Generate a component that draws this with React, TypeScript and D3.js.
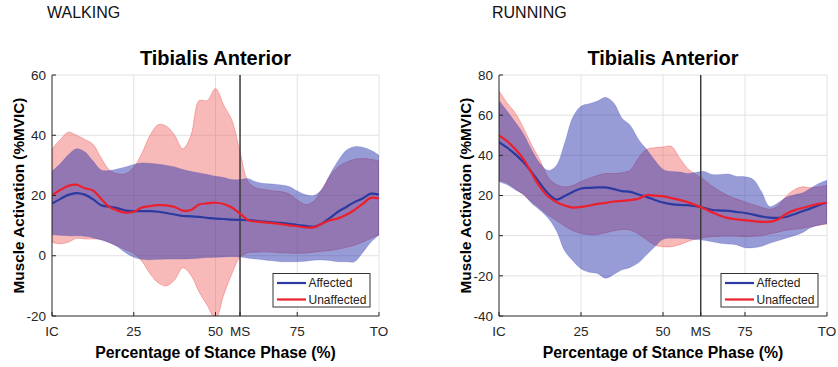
import React from 'react';
import * as d3 from 'd3';

// Stance phase sample positions (%), shared by both panels
const PCT = [0, 2.5, 5, 7.5, 10, 12.5, 15, 17.5, 20, 22.5, 25, 27.5, 30, 32.5, 35, 37.5, 40, 42.5, 45, 47.5, 50, 52.5, 55, 57.5, 60, 62.5, 65, 67.5, 70, 72.5, 75, 77.5, 80, 82.5, 85, 87.5, 90, 92.5, 95, 97.5, 100];

// Walking: mean and mean ± SD (%MVIC)
const WALK_AFF_MEAN = [17.3, 18.8, 20.2, 20.8, 20.3, 18.8, 16.8, 16.3, 15.8, 15.0, 14.8, 14.8, 14.8, 14.6, 14.2, 13.7, 13.2, 13.1, 12.9, 12.6, 12.3, 12.2, 12.0, 11.9, 11.8, 11.6, 11.3, 11.1, 10.9, 10.6, 10.2, 9.9, 9.6, 10.6, 12.6, 14.6, 16.2, 17.8, 19.0, 20.6, 20.3];
const WALK_AFF_UP = [28.0, 30.5, 33.5, 35.5, 34.5, 31.5, 28.5, 28.3, 28.8, 29.5, 30.3, 30.8, 30.7, 30.4, 30.0, 29.5, 28.6, 28.0, 27.5, 27.0, 26.4, 26.0, 25.3, 25.3, 25.6, 24.5, 24.0, 23.8, 23.5, 23.0, 21.5, 20.3, 20.0, 22.0, 27.0, 31.5, 35.0, 36.2, 36.0, 35.0, 33.4];
const WALK_AFF_LO = [7.0, 6.8, 6.6, 6.6, 6.5, 6.0, 5.2, 4.3, 3.0, 1.0, -0.5, -1.2, -1.3, -1.2, -1.1, -1.1, -1.1, -1.0, -0.8, -0.6, -0.5, -0.4, -0.3, -0.4, -0.8, -1.1, -1.4, -1.7, -2.0, -2.0, -2.0, -1.8, -1.5, -1.4, -1.6, -2.0, -2.0, -2.0, 1.0, 4.5, 6.9];
const WALK_UNA_MEAN = [20.1, 21.8, 23.2, 23.6, 22.4, 21.7, 18.9, 16.2, 15.0, 14.3, 14.6, 16.0, 16.5, 16.8, 16.7, 16.2, 15.0, 15.2, 17.0, 17.4, 17.6, 17.2, 16.0, 14.0, 11.8, 11.3, 11.1, 10.8, 10.5, 10.1, 9.8, 9.4, 9.4, 10.6, 11.8, 12.4, 13.6, 15.2, 17.2, 19.2, 19.0];
const WALK_UNA_UP = [35.5, 38.5, 41.0, 40.0, 38.6, 37.0, 32.5, 28.5, 27.2, 27.2, 29.3, 34.0, 40.0, 43.5, 43.0, 40.0, 35.5, 40.0, 51.5, 51.5, 55.5, 50.0, 45.0, 34.5, 24.5, 22.5, 22.0, 21.5, 21.3, 20.5, 18.5, 17.0, 18.0, 22.0, 26.5, 29.5, 31.0, 32.0, 32.3, 32.0, 31.5];
const WALK_UNA_LO = [4.4, 4.0, 4.5, 5.8, 5.6, 5.6, 5.5, 4.5, 3.3, 2.0, 0.8, -1.8, -6.0, -9.0, -10.0, -8.0, -4.0, -6.5, -12.0, -16.5, -21.0, -13.0, -6.0, -0.5, 1.0, 1.2, 1.3, 1.2, 1.0, 0.9, 0.8, 0.9, 1.2, 1.5, 1.7, 2.2, 2.8, 3.5, 4.5, 5.8, 6.9];

// Running: mean and mean ± SD (%MVIC)
const RUN_AFF_MEAN = [46.6, 43.8, 40.5, 36.5, 31.5, 26.0, 21.0, 18.0, 19.7, 21.8, 23.5, 23.8, 24.0, 24.0, 23.2, 22.2, 21.8, 20.5, 19.3, 17.8, 16.5, 15.7, 15.3, 15.2, 14.7, 13.9, 12.8, 12.5, 12.3, 11.8, 11.3, 10.5, 9.6, 9.0, 8.9, 9.3, 10.7, 12.2, 13.6, 15.2, 16.4];
const RUN_AFF_UP = [67.3, 62.0, 56.5, 50.5, 42.5, 35.9, 32.5, 35.0, 46.0, 59.0, 64.5, 65.7, 67.0, 68.9, 66.0, 58.5, 55.0, 48.0, 43.0, 37.5, 33.0, 32.0, 31.7, 31.0, 31.5, 32.0, 30.5, 30.5, 30.7, 29.5, 29.3, 28.0, 22.0, 14.5, 16.3, 19.0, 20.3, 21.2, 23.6, 26.0, 27.6];
const RUN_AFF_LO = [26.8, 25.3, 22.8, 20.5, 16.0, 12.7, 8.7, 2.5, -7.5, -12.5, -16.5, -18.2, -18.8, -21.2, -19.3, -17.0, -15.8, -13.5, -9.5, -5.5, -1.8, -1.3, -1.3, -1.5, -1.9, -2.3, -3.0, -3.8, -4.2, -4.6, -6.0, -6.0, -5.3, -3.8, -2.5, -1.3, 0.0, 1.5, 4.0, 5.2, 6.1];
const RUN_UNA_MEAN = [49.9, 47.0, 43.0, 38.0, 31.0, 24.3, 19.5, 16.8, 15.0, 14.0, 14.3, 15.0, 15.8, 16.3, 17.0, 17.3, 17.7, 18.4, 20.2, 19.9, 19.7, 18.7, 17.8, 16.7, 15.2, 13.5, 11.6, 9.9, 8.7, 8.1, 7.7, 7.2, 6.9, 6.9, 8.0, 10.8, 12.6, 13.8, 14.9, 15.8, 16.4];
const RUN_UNA_UP = [72.2, 66.0, 61.0, 53.5, 45.0, 37.5, 29.0, 25.5, 24.3, 25.0, 27.0, 28.5, 30.0, 30.9, 30.9, 31.3, 32.6, 38.5, 43.0, 43.8, 44.1, 44.5, 38.8, 33.5, 30.5, 27.8, 24.6, 22.0, 19.8, 18.2, 16.8, 15.4, 14.2, 13.1, 14.8, 19.5, 22.8, 24.3, 23.8, 24.3, 25.1];
const RUN_UNA_LO = [27.6, 26.2, 23.5, 20.3, 16.9, 13.6, 10.3, 7.5, 4.8, 2.5, 1.2, 0.5, 0.6, 1.5, 2.4, 3.1, 2.8, 0.8, -2.0, -4.7, -5.5, -5.5, -4.5, -2.9, -1.6, -0.9, -0.5, -0.3, -0.2, -0.3, -0.5, -0.3, -0.1, 0.9, 1.7, 2.7, 3.2, 3.7, 4.5, 5.2, 5.8];

// Axes
const WALK_Y_TICKS = [-20, 0, 20, 40, 60];
const RUN_Y_TICKS = [-40, -20, 0, 20, 40, 60, 80];
const X_TICKS = [0, 25, 50, 75, 100];
const X_TICK_LABELS = ['IC', '25', '50', '75', 'TO'];
const MS_LABEL = 'MS';
const WALK_MS = 57.5;
const RUN_MS = 61.5;

const TITLE = 'Tibialis Anterior';
const X_TITLE = 'Percentage of Stance Phase (%)';
const Y_TITLE = 'Muscle Activation (%MVIC)';
const LEGEND_LABELS = ['Affected', 'Unaffected'];

const FONT = '"Liberation Sans", Arial, Helvetica, sans-serif';
const BLUE = '#2b3aa0';
const RED = '#ec1f2c';
const BLUE_FILL = 'rgb(35,45,170)';
const RED_FILL = 'rgb(240,100,100)';
const AXIS = '#262626';
const GRID = '#e2e2e2';

type PanelProps = {
  id: string;
  heading: string;
  headingX: number;
  left: number;
  right: number;
  top: number;
  bottom: number;
  yDomain: [number, number];
  yTicks: number[];
  ms: number;
  affMean: number[];
  affUp: number[];
  affLo: number[];
  unaMean: number[];
  unaUp: number[];
  unaLo: number[];
};

function Panel(p: PanelProps) {
  const x = d3.scaleLinear().domain([0, 100]).range([p.left, p.right]);
  const y = d3.scaleLinear().domain(p.yDomain).range([p.bottom, p.top]);
  const curve = d3.curveCatmullRom.alpha(0.5);

  const band = (lo: number[], hi: number[]) =>
    d3
      .area<number>()
      .x((d) => x(d))
      .y0((_, i) => y(lo[i]))
      .y1((_, i) => y(hi[i]))
      .curve(curve)(PCT) || '';
  const line = (m: number[]) =>
    d3
      .line<number>()
      .x((d) => x(d))
      .y((_, i) => y(m[i]))
      .curve(curve)(PCT) || '';

  const cx = (p.left + p.right) / 2;
  const cy = (p.top + p.bottom) / 2;
  const xTicks = [...X_TICKS.slice(0, 3), p.ms, ...X_TICKS.slice(3)];
  const xLabels = [...X_TICK_LABELS.slice(0, 3), MS_LABEL, ...X_TICK_LABELS.slice(3)];

  const legW = 97;
  const legH = 33.5;
  const legX = p.right - 9 - legW;
  const legY = p.bottom - 9 - legH;

  return (
    <g>
      <defs>
        <clipPath id={`clip-${p.id}`}>
          <rect x={p.left} y={p.top} width={p.right - p.left} height={p.bottom - p.top} />
        </clipPath>
      </defs>
      <text x={p.headingX} y={18} fontSize={16} fill="#111" fontFamily={FONT}>
        {p.heading}
      </text>
      <text x={cx} y={65} fontSize={20} fontWeight="bold" textAnchor="middle" fill="#000" fontFamily={FONT}>
        {TITLE}
      </text>

      {/* grid */}
      {p.yTicks.slice(1).map((t) => (
        <line key={`gy${t}`} x1={p.left} x2={p.right} y1={y(t)} y2={y(t)} stroke={GRID} strokeWidth={1} />
      ))}
      {X_TICKS.slice(1).map((t) => (
        <line key={`gx${t}`} x1={x(t)} x2={x(t)} y1={p.top} y2={p.bottom} stroke={GRID} strokeWidth={1} />
      ))}

      {/* SD bands and means */}
      <g clipPath={`url(#clip-${p.id})`}>
        <path d={band(p.unaLo, p.unaUp)} fill={RED_FILL} fillOpacity={0.45} stroke={RED_FILL} strokeOpacity={0.6} strokeWidth={0.8} />
        <path d={band(p.affLo, p.affUp)} fill={BLUE_FILL} fillOpacity={0.47} stroke={BLUE_FILL} strokeOpacity={0.3} strokeWidth={0.6} />
        <line x1={x(p.ms)} x2={x(p.ms)} y1={p.top} y2={p.bottom} stroke="#3a3a3a" strokeWidth={1.5} />
        <path d={line(p.affMean)} fill="none" stroke={BLUE} strokeWidth={2.2} strokeLinejoin="round" />
        <path d={line(p.unaMean)} fill="none" stroke={RED} strokeWidth={2.2} strokeLinejoin="round" />
      </g>

      {/* axes */}
      <line x1={p.left} x2={p.left} y1={p.top} y2={p.bottom} stroke={AXIS} strokeWidth={1} />
      <line x1={p.left} x2={p.right} y1={p.bottom} y2={p.bottom} stroke={AXIS} strokeWidth={1} />
      {p.yTicks.map((t) => (
        <g key={`ty${t}`}>
          <line x1={p.left} x2={p.left + 4} y1={y(t)} y2={y(t)} stroke={AXIS} strokeWidth={1} />
          <text x={p.left - 6} y={y(t)} dy="0.35em" fontSize={13.5} textAnchor="end" fill={AXIS} fontFamily={FONT}>
            {t}
          </text>
        </g>
      ))}
      {xTicks.map((t, i) => (
        <g key={`tx${i}`}>
          <line x1={x(t)} x2={x(t)} y1={p.bottom} y2={p.bottom - 4} stroke={AXIS} strokeWidth={1} />
          <text x={x(t)} y={336} fontSize={13.5} textAnchor="middle" fill={AXIS} fontFamily={FONT}>
            {xLabels[i]}
          </text>
        </g>
      ))}
      <text x={cx} y={358} fontSize={15.8} fontWeight="bold" textAnchor="middle" fill="#000" fontFamily={FONT}>
        {X_TITLE}
      </text>
      <text
        transform={`translate(${p.left - 33},${cy}) rotate(-90)`}
        dy="0.35em"
        fontSize={15.3}
        fontWeight="bold"
        textAnchor="middle"
        fill="#000"
        fontFamily={FONT}
      >
        {Y_TITLE}
      </text>

      {/* legend */}
      <rect x={legX} y={legY} width={legW} height={legH} fill="#fff" stroke="#333" strokeWidth={1} />
      {[BLUE, RED].map((c, i) => {
        const ly = legY + 9.5 + i * 16.5;
        return (
          <g key={`lg${i}`}>
            <line x1={legX + 4} x2={legX + 33} y1={ly} y2={ly} stroke={c} strokeWidth={2.2} />
            <text x={legX + 35.5} y={ly} dy="0.35em" fontSize={12} fill="#222" fontFamily={FONT}>
              {LEGEND_LABELS[i]}
            </text>
          </g>
        );
      })}
    </g>
  );
}

export default function App() {
  return (
    <svg
      width={838}
      height={367}
      viewBox="0 0 838 367"
      style={{ position: 'absolute', left: 0, top: 0, background: '#fff', display: 'block' }}
    >
      <rect width={838} height={367} fill="#fff" />
      <Panel
        id="walk"
        heading="WALKING"
        headingX={47}
        left={52}
        right={379}
        top={75}
        bottom={316}
        yDomain={[-20, 60]}
        yTicks={WALK_Y_TICKS}
        ms={WALK_MS}
        affMean={WALK_AFF_MEAN}
        affUp={WALK_AFF_UP}
        affLo={WALK_AFF_LO}
        unaMean={WALK_UNA_MEAN}
        unaUp={WALK_UNA_UP}
        unaLo={WALK_UNA_LO}
      />
      <Panel
        id="run"
        heading="RUNNING"
        headingX={492}
        left={499}
        right={827}
        top={75}
        bottom={316}
        yDomain={[-40, 80]}
        yTicks={RUN_Y_TICKS}
        ms={RUN_MS}
        affMean={RUN_AFF_MEAN}
        affUp={RUN_AFF_UP}
        affLo={RUN_AFF_LO}
        unaMean={RUN_UNA_MEAN}
        unaUp={RUN_UNA_UP}
        unaLo={RUN_UNA_LO}
      />
    </svg>
  );
}
